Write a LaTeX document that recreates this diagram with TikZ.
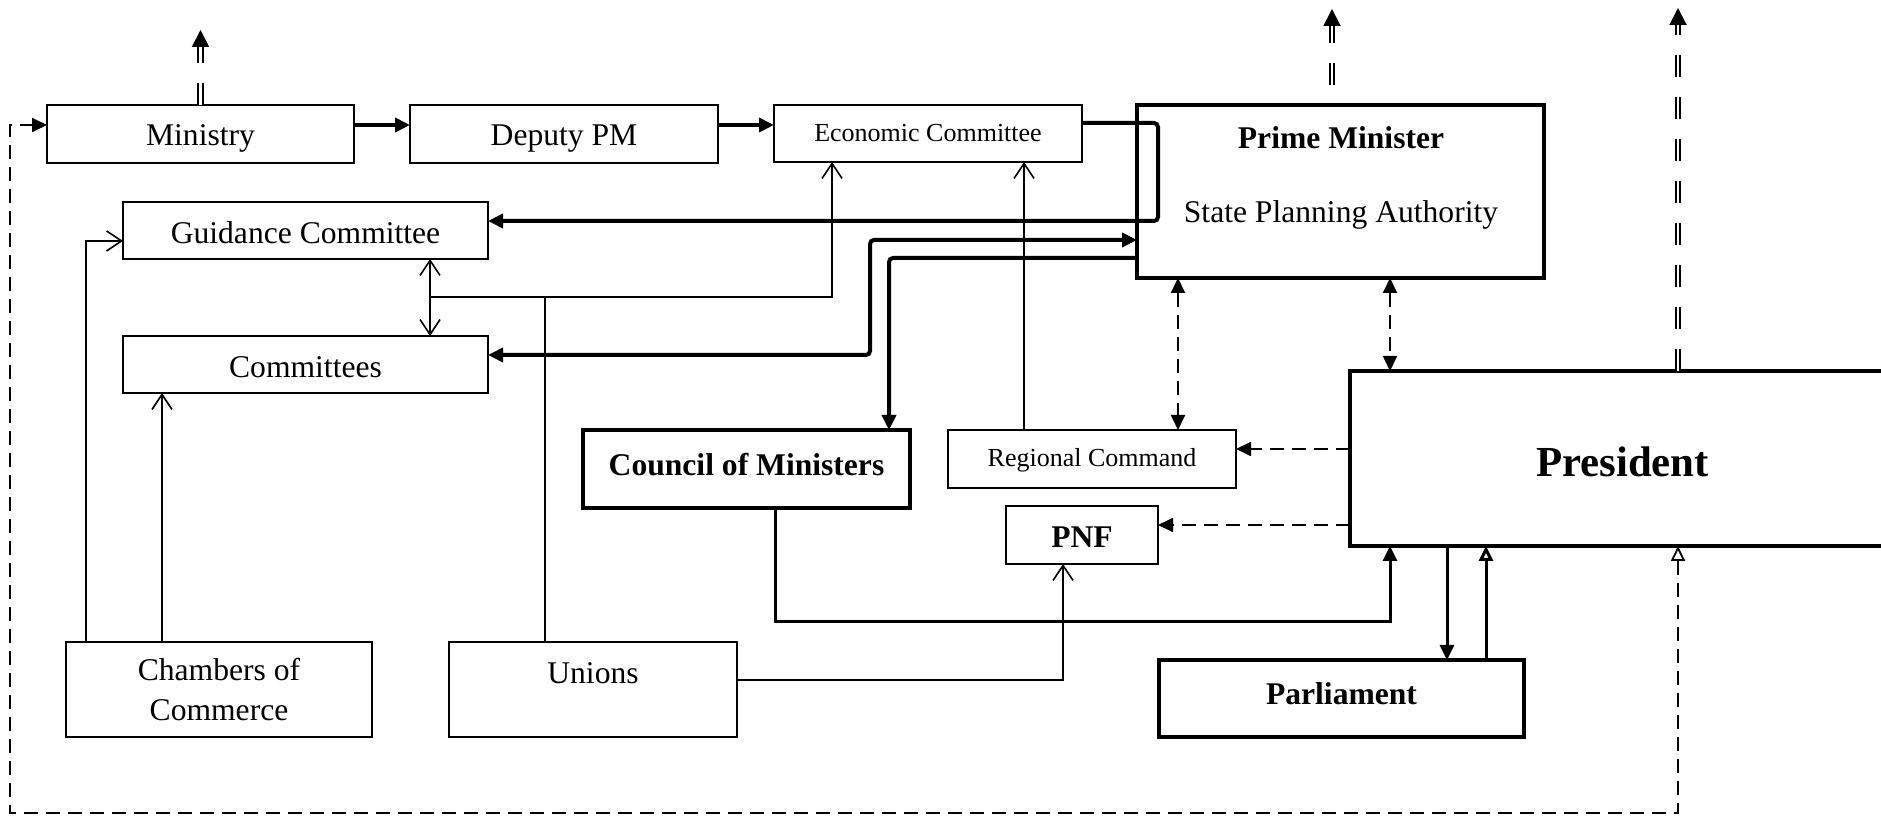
\documentclass[tikz,border=0pt]{standalone}
\usepackage{fontspec}
\setmainfont{Liberation Serif}
\usetikzlibrary{arrows.meta,calc}
\newcommand{\mvdn}[2]{\raisebox{#1}[\height][\depth]{#2}}
\tikzset{
  myF/.tip={Triangle[length=7.5pt,width=7pt]},
  myO/.tip={Triangle[open,length=7.5pt,width=7pt]},
  myD/.tip={Triangle[length=8.5pt,width=8.5pt]},
  myV/.tip={Straight Barb[length=7.5pt,width=10pt,line width=0.8pt]},
  box/.style={draw, line width=1pt, inner sep=0pt, outer sep=0pt, font=\fontsize{15.8}{20}\selectfont},
  hbox/.style={box, line width=1.8pt},
  smallf/.style={font=\fontsize{13}{16}\selectfont},
  boldf/.style={font=\fontsize{15.8}{20}\selectfont\bfseries},
  txt/.style={inner sep=0pt, outer sep=0pt, font=\fontsize{15.8}{20}\selectfont},
  ln/.style={line width=0.8pt},
  lk/.style={line width=2pt},
  lm/.style={line width=1.5pt},
  dsh/.style={line width=0.9pt, dash pattern=on 7pt off 4pt},
  dbl/.style={line width=0.95pt, double=white, double distance=1.2pt, dash pattern=on 11pt off 10pt},
}
\begin{document}
\begin{tikzpicture}[x=0.5pt,y=-0.5pt]
\useasboundingbox (0,0) rectangle (1881,817);
% boxes
\node[box, minimum width=153.5pt, minimum height=29pt] (ministry) at (200.5,134) {\mvdn{-2.4pt}{Ministry}};
\node[box, minimum width=154pt, minimum height=29pt] (deputy) at (564,134) {\mvdn{-2.4pt}{Deputy PM}};
\node[box, smallf, minimum width=154pt, minimum height=28.5pt] (econ) at (928,133.5) {Economic Committee};
\node[hbox, minimum width=203.5pt, minimum height=86.5pt] (pm) at (1340.5,191.5) {};
\node[txt, font=\fontsize{15.8}{20}\selectfont\bfseries] (pmt1) at (1341,137.5) {Prime Minister};
\node[txt, anchor=base] (pmt2) at (1341,223) {State Planning Authority};
\node[box, minimum width=182.5pt, minimum height=28.5pt] (guidance) at (305.5,230.5) {\mvdn{-1.2pt}{Guidance Committee}};
\node[box, minimum width=182.5pt, minimum height=28.5pt] (committees) at (305.5,364.5) {\mvdn{-1.2pt}{Committees}};
\node[hbox, boldf, minimum width=163.5pt, minimum height=39pt] (council) at (746.5,469) {\mvdn{2.4pt}{Council of Ministers}};
\node[box, smallf, minimum width=144pt, minimum height=29pt] (regional) at (1092,459) {\mvdn{-0.6pt}{Regional Command}};
\node[box, boldf, minimum width=76pt, minimum height=29pt] (pnf) at (1082,535) {\mvdn{-1.2pt}{PNF}};
\node[hbox, font=\fontsize{21.4}{25}\selectfont\bfseries, minimum width=272.5pt, minimum height=87.5pt] (president) at (1622.5,458.5) {\mvdn{-1.8pt}{President}};
\node[hbox, boldf, minimum width=182.5pt, minimum height=38.5pt] (parliament) at (1341.5,698.5) {\mvdn{2.4pt}{Parliament}};
\node[box, align=center, minimum width=153pt, minimum height=47.5pt] (chambers) at (219,689.5) {Chambers of\\Commerce};
\node[box, minimum width=144pt, minimum height=47.5pt] (unions) at (593,689.5) {};
\node[txt] (uniont) at (593,673.5) {Unions};
% coordinates
\coordinate (r1) at (0,125);
\coordinate (e1) at (1158,123);
\coordinate (e2) at (1158,221);
\coordinate (c1) at (870,240);
\coordinate (c2) at (870,355);
\coordinate (k1) at (889,258);
\coordinate (g1) at (430,297);
\coordinate (g2) at (832,297);
\coordinate (u1) at (545,297);
\coordinate (rc) at (1024,0);
\coordinate (d1) at (1178,0);
\coordinate (d2) at (1390,0);
\coordinate (d3) at (0,449);
\coordinate (d4) at (0,525);
\coordinate (m1) at (775,622);
\coordinate (m2) at (1390,622);
\coordinate (p1) at (1447,0);
\coordinate (p2) at (1486,0);
\coordinate (n1) at (1063,680);
\coordinate (h1) at (86,241);
\coordinate (h2) at (162,0);
\coordinate (l1) at (1678,813);
\coordinate (l2) at (10,813);
\coordinate (l3) at (10,125);
\coordinate (t1) at (200.5,30);
\coordinate (t2) at (1332,9);
\coordinate (t3) at (1678,8);
% thick connectors
\draw[lk,-myF] (ministry.east |- r1) -- (deputy.west |- r1);
\draw[lk,-myF] (deputy.east |- r1) -- (econ.west |- r1);
\draw[lk,-myF,rounded corners=2pt] (econ.east |- e1) -- (e1) -- (e2) -- (guidance.east |- e2);
\draw[lk,myF-myF,rounded corners=2pt] (committees.east |- c2) -- (c2) -- (c1) -- (pm.west |- c1);
\draw[lk,-myF,rounded corners=2pt] (pm.west |- k1) -- (k1) -- (council.north -| k1);
\draw[lm,-myF] (council.south -| m1) -- (m1) -- (m2) -- (president.south -| m2);
\draw[lm,-myF] (president.south -| p1) -- (parliament.north -| p1);
\draw[lm,-myO] (parliament.north -| p2) -- (president.south -| p2);
% thin connectors
\draw[ln,myV-myV] (guidance.south -| g1) -- (committees.north -| g1);
\draw[ln,-myV] (g1) -- (g2) -- (econ.south -| g2);
\draw[ln] (unions.north -| u1) -- (u1);
\draw[ln,-myV] (regional.north -| rc) -- (econ.south -| rc);
\draw[ln,-myV] (unions.east |- n1) -- (n1) -- (pnf.south -| n1);
\draw[ln,-myV] (chambers.north -| h1) -- (h1) -- (guidance.west |- h1);
\draw[ln,-myV] (chambers.north -| h2) -- (committees.south -| h2);
% dashed connectors
\draw[dsh,myF-myF] (pm.south -| d1) -- (regional.north -| d1);
\draw[dsh,myF-myF] (pm.south -| d2) -- (president.north -| d2);
\draw[dsh,-myF] (president.west |- d3) -- (regional.east |- d3);
\draw[dsh,-myF] (president.west |- d4) -- (pnf.east |- d4);
\draw[dsh,myO-myF] (president.south -| l1) -- (l1) -- (l2) -- (l3) -- (ministry.west |- l3);
% upward double dashed arrows
\draw[dbl,-myD] (ministry.north) -- (t1);
\draw[dbl,dash phase=11pt,-myD] (pm.north -| t2) -- (t2);
\draw[dbl,-myD] (president.north -| t3) -- (t3);
\end{tikzpicture}
\end{document}
